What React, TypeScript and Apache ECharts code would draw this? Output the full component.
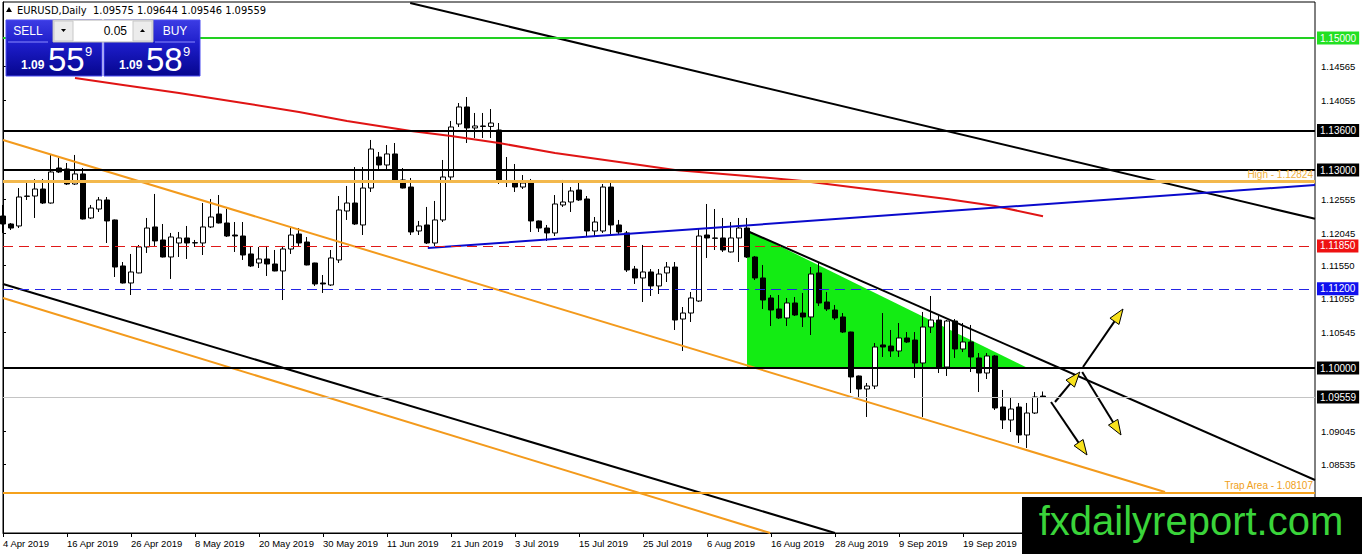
import React, { useEffect, useRef } from "react";
import * as echarts from "echarts";

// ---- data ----
const dateLabels = [
  "4 Apr 2019", "16 Apr 2019", "26 Apr 2019", "8 May 2019", "20 May 2019", "30 May 2019",
  "11 Jun 2019", "21 Jun 2019", "3 Jul 2019", "15 Jul 2019", "25 Jul 2019", "6 Aug 2019",
  "16 Aug 2019", "28 Aug 2019", "9 Sep 2019", "19 Sep 2019",
];

// [open, close, low, high] per daily bar, bar 0 = 4 Apr 2019
const candles: number[][] = [
  [1.12303, 1.12182, 1.12046, 1.1247], [1.12182, 1.12121, 1.12091, 1.12197], [1.12152, 1.12591, 1.12121, 1.12727],
  [1.126, 1.12606, 1.12546, 1.12818], [1.12606, 1.12712, 1.12273, 1.12864], [1.12712, 1.125, 1.12485, 1.12864],
  [1.125, 1.1297, 1.1249, 1.13228], [1.1303, 1.1297, 1.12955, 1.13182], [1.13015, 1.12788, 1.12773, 1.13106],
  [1.12788, 1.1294, 1.12773, 1.13228], [1.1294, 1.12258, 1.1225, 1.1303], [1.12273, 1.12424, 1.12258, 1.1247],
  [1.12409, 1.12546, 1.12364, 1.12591], [1.12546, 1.12228, 1.11894, 1.12591], [1.12243, 1.1153, 1.11379, 1.1225],
  [1.11546, 1.11288, 1.1128, 1.11606], [1.11288, 1.11455, 1.11106, 1.11728], [1.1144, 1.11834, 1.11435, 1.11864],
  [1.11834, 1.12121, 1.11743, 1.12273], [1.12137, 1.11925, 1.11849, 1.12637], [1.1194, 1.11682, 1.11675, 1.12182],
  [1.11682, 1.11985, 1.11349, 1.12046], [1.11894, 1.1197, 1.11682, 1.12061], [1.1197, 1.11894, 1.11652, 1.12152],
  [1.11894, 1.119, 1.11834, 1.1194], [1.11894, 1.12137, 1.11712, 1.125], [1.12137, 1.12288, 1.12121, 1.12561],
  [1.12333, 1.12197, 1.1219, 1.12621], [1.12197, 1.12, 1.11985, 1.12409], [1.12015, 1.12, 1.11758, 1.12212],
  [1.12, 1.11712, 1.11637, 1.12212], [1.11728, 1.11546, 1.1153, 1.11834], [1.11591, 1.11652, 1.11515, 1.11834],
  [1.11652, 1.11576, 1.11394, 1.11849], [1.11576, 1.1147, 1.11465, 1.11788], [1.1147, 1.11803, 1.1103, 1.11849],
  [1.11803, 1.12015, 1.11728, 1.12121], [1.1203, 1.11894, 1.11834, 1.12121], [1.11909, 1.11561, 1.11555, 1.11985],
  [1.11591, 1.11273, 1.11243, 1.11595], [1.11288, 1.11273, 1.11137, 1.11409], [1.11258, 1.11667, 1.11243, 1.11788],
  [1.11637, 1.12394, 1.11591, 1.12606], [1.12379, 1.125, 1.12243, 1.12758], [1.125, 1.12182, 1.12167, 1.13045],
  [1.12167, 1.12727, 1.12015, 1.13045], [1.12727, 1.13318, 1.12667, 1.13455], [1.13197, 1.13076, 1.13, 1.13273],
  [1.13076, 1.13243, 1.13, 1.13379], [1.13243, 1.12833, 1.12818, 1.13409], [1.12849, 1.12727, 1.1272, 1.1303],
  [1.12742, 1.12061, 1.12015, 1.12879], [1.12076, 1.12152, 1.12015, 1.12228], [1.12167, 1.11894, 1.11879, 1.1244],
  [1.11894, 1.12243, 1.11849, 1.12531], [1.12243, 1.12894, 1.12212, 1.13152], [1.12894, 1.13652, 1.12849, 1.13743],
  [1.13697, 1.13955, 1.13652, 1.14015], [1.13955, 1.13637, 1.13409, 1.14106], [1.13637, 1.13667, 1.13485, 1.13864],
  [1.13667, 1.1366, 1.13485, 1.13864], [1.1366, 1.13712, 1.13485, 1.13924], [1.13606, 1.12833, 1.12788, 1.13712],
  [1.12833, 1.1281, 1.12742, 1.13197], [1.12803, 1.12742, 1.12667, 1.13091], [1.12742, 1.12803, 1.12712, 1.12924],
  [1.12803, 1.12228, 1.12061, 1.12864], [1.12228, 1.12121, 1.12061, 1.12235], [1.12121, 1.12046, 1.11925, 1.12167],
  [1.12046, 1.12485, 1.12, 1.12621], [1.1247, 1.12515, 1.1244, 1.12849], [1.12515, 1.12682, 1.12364, 1.12742],
  [1.12697, 1.12546, 1.12531, 1.12803], [1.12561, 1.12076, 1.11985, 1.12606], [1.12076, 1.12212, 1.12, 1.12288],
  [1.12076, 1.12742, 1.12046, 1.12788], [1.12742, 1.12167, 1.1203, 1.12803], [1.12167, 1.12061, 1.1203, 1.12243],
  [1.12046, 1.11485, 1.11455, 1.12076], [1.115, 1.11364, 1.11273, 1.11546], [1.11364, 1.11455, 1.11, 1.11864],
  [1.11455, 1.11243, 1.11091, 1.115], [1.11243, 1.11424, 1.11121, 1.115], [1.1144, 1.1153, 1.11303, 1.11606],
  [1.1153, 1.10727, 1.10576, 1.11606], [1.10742, 1.10833, 1.10258, 1.10924], [1.10833, 1.11061, 1.10697, 1.11152],
  [1.11015, 1.12, 1.11, 1.12121], [1.12015, 1.1197, 1.11667, 1.12485], [1.1197, 1.11965, 1.11788, 1.12409],
  [1.1197, 1.11788, 1.11758, 1.12273], [1.11758, 1.1197, 1.1175, 1.12212], [1.1197, 1.12121, 1.11606, 1.12273],
  [1.12121, 1.11682, 1.11667, 1.12273], [1.11682, 1.11364, 1.11333, 1.11697], [1.11364, 1.1103, 1.10894, 1.11561],
  [1.11061, 1.10879, 1.10636, 1.11106], [1.10894, 1.10758, 1.10742, 1.11106], [1.10758, 1.10985, 1.10636, 1.11061],
  [1.10985, 1.10803, 1.10788, 1.11076], [1.10833, 1.10773, 1.10621, 1.11137], [1.10773, 1.11424, 1.105, 1.1153],
  [1.1144, 1.10985, 1.10939, 1.11606], [1.11, 1.10894, 1.10864, 1.11152], [1.10879, 1.10758, 1.10727, 1.10955],
  [1.10773, 1.10545, 1.1053, 1.10833], [1.10545, 1.09864, 1.09621, 1.1055], [1.09879, 1.09682, 1.09561, 1.09885],
  [1.09682, 1.09727, 1.09258, 1.09773], [1.09727, 1.10318, 1.09682, 1.10379], [1.10349, 1.10318, 1.10167, 1.10833],
  [1.10333, 1.10258, 1.10167, 1.10576], [1.10258, 1.10455, 1.10167, 1.10682], [1.10455, 1.10394, 1.10379, 1.10545],
  [1.10424, 1.10076, 1.09849, 1.10545], [1.10076, 1.10621, 1.09258, 1.10849], [1.10621, 1.10727, 1.1053, 1.11091],
  [1.10727, 1.10015, 1.09924, 1.10788], [1.10015, 1.10712, 1.09879, 1.10727], [1.10712, 1.10288, 1.10152, 1.10742],
  [1.10288, 1.10394, 1.10242, 1.10682], [1.10394, 1.10167, 1.09939, 1.10652], [1.10152, 1.09924, 1.09636, 1.10227],
  [1.09924, 1.10182, 1.09833, 1.10227], [1.10182, 1.09394, 1.09364, 1.10197], [1.09409, 1.09212, 1.09076, 1.09667],
  [1.09212, 1.09379, 1.0903, 1.09561], [1.09409, 1.08985, 1.08864, 1.0947], [1.08985, 1.09318, 1.08788, 1.0947],
  [1.09318, 1.09561, 1.09303, 1.09636], [1.09575, 1.09559, 1.09546, 1.09644],
];

// moving average (red) : bar index and value
const maIdx = [9, 15, 22, 30, 37, 43, 51, 56, 62, 69, 77, 84, 93, 100, 106, 112, 118, 124, 130];
const maVal = [1.14394, 1.14288, 1.14167, 1.14015, 1.13879, 1.13742, 1.13591, 1.13515, 1.13409, 1.13258,
  1.13121, 1.13, 1.12909, 1.12833, 1.12742, 1.12652, 1.12561, 1.12455, 1.1230];

// trend lines: [barIndex, price] end points
const blackTop = [[50.9, 1.1553], [164, 1.1226]];
const blackDesc = [[92.75, 1.12091], [164, 1.08303]];
const blackLower = [[0, 1.11273], [104, 1.075]];
const orangeUpper = [[0, 1.13455], [145.25, 1.08121]];
const orangeLower = [[0, 1.11061], [95.9, 1.075]];
const blueLine = [[53.1, 1.11818], [164, 1.12773]];
const triangle = [[93, 1.12091], [93, 1.1], [128.1, 1.1]];
// arrows: [fromIndex, fromPrice, toIndex, toPrice]
const arrows = [
  [135, 1.10015, 140, 1.10894],
  [134.9, 1.09939, 139.75, 1.08985],
  [131.5, 1.09485, 134.6, 1.09939],
  [131, 1.09485, 135.5, 1.08682],
];

// horizontal levels
const levelValues = [1.15, 1.136, 1.13, 1.12824, 1.1185, 1.112, 1.1, 1.09559, 1.08107];
const levelTags = ["1.15000", "1.13600", "1.13000", "High - 1.12824", "1.11850", "1.11200", "1.10000", "1.09559", "Trap Area - 1.08107"];
const priceTicks = [1.14565, 1.14055, 1.12555, 1.12045, 1.1155, 1.11055, 1.10545, 1.09045, 1.08535];

const header = "EURUSD,Daily  1.09575 1.09644 1.09546 1.09559";

const NARROW = '"Liberation Sans Narrow", "DejaVu Sans Condensed", "Liberation Sans", sans-serif';
const AXF = '"Liberation Sans", sans-serif';

function levelStyle(i: number) {
  const tagged = (bg: string) => ({
    show: true, position: "end", distance: 2, formatter: levelTags[i], color: "#fff",
    backgroundColor: bg, padding: [2, 3, 1, 3], fontSize: 10, fontFamily: AXF,
  });
  const inside = (c: string) => ({
    show: true, position: "insideEndTop", distance: 2, formatter: levelTags[i], color: c,
    fontSize: 10, fontFamily: AXF,
  });
  const styles: any[] = [
    { lineStyle: { color: "#22d022", width: 2, type: "solid" }, label: tagged("#22e022") },
    { lineStyle: { color: "#000", width: 2, type: "solid" }, label: tagged("#000") },
    { lineStyle: { color: "#000", width: 2, type: "solid" }, label: tagged("#000") },
    { lineStyle: { color: "#f3b84c", width: 3, type: "solid" }, label: inside("#f0b040") },
    { lineStyle: { color: "#e01818", width: 1, type: [10, 6] }, label: tagged("#ee1111") },
    { lineStyle: { color: "#2424e6", width: 1, type: [10, 6] }, label: tagged("#1010ee") },
    { lineStyle: { color: "#000", width: 2, type: "solid" }, label: tagged("#000") },
    { lineStyle: { color: "#c4c4c4", width: 1, type: "solid" }, label: tagged("#000") },
    { lineStyle: { color: "#f5a11c", width: 2, type: "solid" }, label: inside("#f0a020") },
  ];
  return styles[i];
}

function lineSeries(pts: number[][], color: string, width: number, z = 3) {
  return {
    type: "line", data: pts, symbol: "none", silent: true, clip: true, z,
    lineStyle: { color, width }, animation: false,
  };
}

export default function App() {
  const ref = useRef<HTMLDivElement>(null);
  useEffect(() => {
    if (!ref.current) return;
    const chart = echarts.init(ref.current, null, { renderer: "svg" });
    const panelGrad = new echarts.graphic.LinearGradient(0, 0, 0, 1, [
      { offset: 0, color: "#3c3ce4" },
      { offset: 0.45, color: "#1c1cc8" },
      { offset: 1, color: "#06068e" },
    ]);
    // labelX: centre of the SELL/BUY caption relative to panel left
    const panel = (x: number, label: string, big: string, labelX: number) => [
      { type: "rect", z: 100, shape: { x, y: 20, width: 96, height: 56 }, style: { fill: panelGrad, stroke: "#4a4af0", lineWidth: 1 } },
      { type: "line", z: 101, shape: { x1: x + labelX - 20, y1: 42, x2: x + labelX + 20, y2: 42 }, style: { stroke: "#8a8aff", lineWidth: 1 } },
      { type: "text", z: 101, style: { x: x + labelX, y: 31, text: label, fill: "#fff", fontSize: 12, fontFamily: "Liberation Sans", align: "center", verticalAlign: "middle" } },
      { type: "text", z: 101, style: { x: x + 15, y: 65, text: "1.09", fill: "#fff", fontSize: 12, fontWeight: "bold", fontFamily: "Liberation Sans", align: "left", verticalAlign: "middle" } },
      { type: "text", z: 101, style: { x: x + 42, y: 59, text: big, fill: "#fff", fontSize: 33, fontFamily: "Liberation Sans", align: "left", verticalAlign: "middle" } },
      { type: "text", z: 101, style: { x: x + 79, y: 51, text: "9", fill: "#fff", fontSize: 13, fontFamily: "Liberation Sans", align: "left", verticalAlign: "middle" } },
    ];
    const option: any = {
      animation: false,
      backgroundColor: "#fff",
      grid: { left: 3, right: 47, top: 2, bottom: 21, show: true, borderColor: "#000", borderWidth: 1, backgroundColor: "transparent" },
      xAxis: {
        type: "value", min: 0, max: 164, interval: 8,
        axisLine: { show: true, lineStyle: { color: "#000", width: 1 } },
        axisTick: { show: true, length: 4, lineStyle: { color: "#000" } },
        splitLine: { show: false },
        axisLabel: {
          color: "#000", fontSize: 9.5, fontFamily: AXF, align: "left", margin: 5,
          showMaxLabel: false,
          formatter: (v: number) => {
            const k = Math.round(v / 8);
            return Math.abs(v - k * 8) < 1e-6 && k < dateLabels.length ? dateLabels[k] : "";
          },
        },
      },
      yAxis: {
        type: "value", position: "right", min: 1.075, max: 1.155455, scale: true,
        axisLine: { show: true, lineStyle: { color: "#000", width: 1 } },
        axisTick: { show: true, length: 3, customValues: priceTicks, lineStyle: { color: "#000" } },
        splitLine: { show: false },
        axisLabel: {
          color: "#000", fontSize: 9.5, fontFamily: AXF, margin: 6, customValues: priceTicks,
          formatter: (v: number) => v.toFixed(5),
        },
      },
      series: [
        {
          type: "custom", z: 1, silent: true, data: triangle,
          encode: { x: 0, y: 1 },
          renderItem: (params: any, api: any) => {
            if (params.dataIndex !== 0) return null;
            const pts = triangle.map((p) => api.coord(p));
            return { type: "polygon", shape: { points: pts }, style: { fill: "#13ec13" } };
          },
        },
        {
          type: "candlestick", z: 2, silent: true, barWidth: 5, clip: true,
          data: candles.map((c, i) => [i, c[0], c[1], c[2], c[3]]),
          itemStyle: { color: "#fff", color0: "#000", borderColor: "#000", borderColor0: "#000", borderWidth: 1 },
          markLine: {
            silent: true, symbol: ["none", "none"], animation: false, precision: 5,
            data: levelValues.map((v, i) => ({ yAxis: v, ...levelStyle(i) })),
          },
        },
        lineSeries(maIdx.map((x, i) => [x, maVal[i]]), "#e01414", 2),
        lineSeries(blackTop, "#000", 2),
        lineSeries(blackDesc, "#000", 2),
        lineSeries(blackLower, "#000", 2),
        lineSeries(orangeUpper, "#f39a1c", 2),
        lineSeries(orangeLower, "#f39a1c", 2),
        lineSeries(blueLine, "#0a0acc", 2),
        {
          type: "custom", z: 4, silent: true, data: arrows,
          encode: { x: [0, 2], y: [1, 3] },
          renderItem: (params: any, api: any) => {
            const a = api.coord([api.value(0), api.value(1)]);
            const b = api.coord([api.value(2), api.value(3)]);
            const dx = b[0] - a[0], dy = b[1] - a[1];
            const len = Math.hypot(dx, dy) || 1;
            const ux = dx / len, uy = dy / len, nx = -uy, ny = ux;
            const hl = 15, hw = 5.5;
            const bx = b[0] - ux * hl, by = b[1] - uy * hl;
            return {
              type: "group",
              children: [
                { type: "line", shape: { x1: a[0], y1: a[1], x2: bx, y2: by }, style: { stroke: "#000", lineWidth: 2 } },
                {
                  type: "polygon",
                  shape: { points: [[b[0], b[1]], [bx + nx * hw, by + ny * hw], [bx - nx * hw, by - ny * hw]] },
                  style: { fill: "#f8e21c", stroke: "#000", lineWidth: 1 },
                },
              ],
            };
          },
        },
      ],
      graphic: [
        { type: "polygon", z: 100, shape: { points: [[6, 12], [12, 12], [9, 7]] }, style: { fill: "#000" } },
        { type: "text", z: 100, style: { x: 17, y: 10, text: header, fill: "#000", fontSize: 11, fontFamily: NARROW, verticalAlign: "middle" } },
        ...panel(6, "SELL", "55", 22),
        ...panel(104, "BUY", "58", 71),
        { type: "rect", z: 102, shape: { x: 53, y: 20, width: 100, height: 22 }, style: { fill: "#fff", stroke: "#b4b4b4", lineWidth: 1 } },
        { type: "rect", z: 103, shape: { x: 54, y: 21, width: 19, height: 20 }, style: { fill: "#ececec", stroke: "#c8c8c8", lineWidth: 1 } },
        { type: "rect", z: 103, shape: { x: 133, y: 21, width: 19, height: 20 }, style: { fill: "#ececec", stroke: "#c8c8c8", lineWidth: 1 } },
        { type: "polygon", z: 104, shape: { points: [[61, 29], [66, 29], [63.5, 32]] }, style: { fill: "#000" } },
        { type: "polygon", z: 104, shape: { points: [[140, 32], [145, 32], [142.5, 29]] }, style: { fill: "#000" } },
        { type: "text", z: 104, style: { x: 127, y: 31, text: "0.05", fill: "#000", fontSize: 12, fontFamily: "Liberation Sans", align: "right", verticalAlign: "middle" } },
        { type: "rect", z: 110, shape: { x: 1022, y: 497, width: 340, height: 57 }, style: { fill: "#000" } },
        { type: "text", z: 111, style: { x: 1191, y: 521, text: "fxdailyreport.com", fill: "#3ad43a", fontSize: 40, fontFamily: "Liberation Sans", align: "center", verticalAlign: "middle" } },
      ],
    };
    chart.setOption(option);
    return () => chart.dispose();
  }, []);
  return <div ref={ref} style={{ position: "absolute", left: 0, top: 0, width: 1362, height: 554 }} />;
}
